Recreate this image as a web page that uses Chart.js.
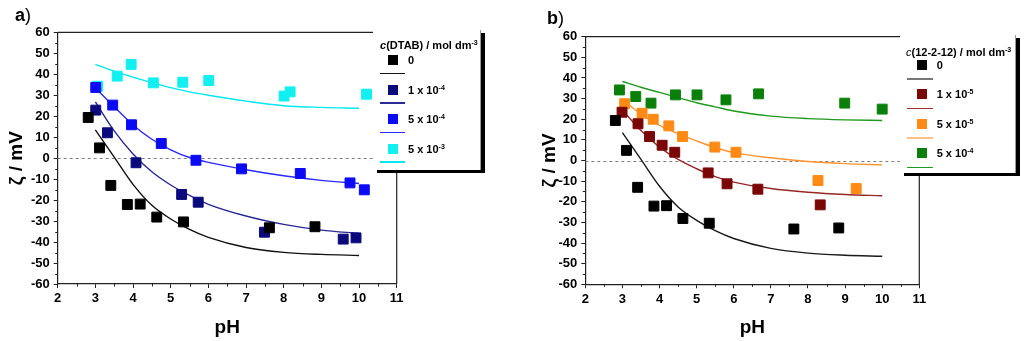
<!DOCTYPE html>
<html>
<head>
<meta charset="utf-8">
<title>Zeta potential vs pH</title>
<script src="https://cdn.jsdelivr.net/npm/chart.js@4.4.1/dist/chart.umd.min.js"></script>
<style>
  body { margin: 0; background: #fff; font-family: "Liberation Sans", Arial, sans-serif; }
  #page { position: relative; width: 1024px; height: 341px; overflow: hidden; }
  canvas { position: absolute; top: 0; }
  .tag { position: absolute; font-size: 18px; line-height: 18px; color: #000; }
  .tag b { font-weight: bold; }
  .legend { position: absolute; box-sizing: border-box; background: #fff;
            border-right: 1px solid #999; box-shadow: 4px 3px 0 #000;
            font-size: 11px; font-weight: bold; color: #000; }
  .legend div, .legend span.txt { position: absolute; }
  .legend sup { font-size: 7px; vertical-align: 4px; line-height: 0; }
  .legend .ttl { white-space: nowrap; line-height: 12px; }
</style>
</head>
<body>
<div id="page">
  <canvas id="chartA" width="512" height="341" style="left:0"></canvas>
  <canvas id="chartB" width="512" height="341" style="left:512px"></canvas>
  <div class="tag" style="left:15px; top:6px"><b>a</b>)</div>
  <div class="tag" style="left:547px; top:9px"><b>b</b>)</div>
  <div class="legend" id="legA" style="left:373px; top:30px; width:108px; height:140px"></div>
  <div class="legend" id="legB" style="left:900px; top:35px; width:116px; height:138px"></div>
</div>
<script>
// axis ticks
const xTicks = [2, 3, 4, 5, 6, 7, 8, 9, 10, 11];
const yTicks = [-60, -50, -40, -30, -20, -10, 0, 10, 20, 30, 40, 50, 60];

// pH values at which the fitted curves are given
const fitPH = [3, 3.5, 4, 4.5, 5, 5.5, 6, 7, 8, 9, 10];

// no surfactant (same in both panels)
const pH0 = [2.81, 3.11, 3.41, 3.85, 4.19, 4.63, 5.34, 7.62, 8.83];
const zeta0 = [19.4, 4.9, -13.0, -22.1, -21.9, -28.1, -30.4, -33.2, -32.7];
const fit0 = [13.5, 0.5, -12.5, -22.5, -29, -34, -37.8, -42.6, -44.9, -45.9, -46.4];

// DTAB 1e-4 / 5e-4 / 5e-3 mol dm-3
const pHDtab1 = [3.01, 3.32, 4.08, 5.29, 5.73, 7.49, 9.58, 9.92];
const zetaDtab1 = [22.9, 12.1, -2.2, -17.3, -21.0, -35.3, -38.6, -38.0];
const fitDtab1 = [26.8, 13, 2, -6.5, -12.8, -17.8, -22, -27.6, -31.6, -34.3, -35.9];

const pHDtab2 = [3.01, 3.46, 3.96, 4.75, 5.67, 6.88, 8.44, 9.76, 10.14];
const zetaDtab2 = [33.7, 25.3, 15.9, 7.0, -1.0, -5.1, -7.3, -11.8, -15.1];
const fitDtab2 = [33.5, 24.5, 15.8, 9, 4, 0.3, -2, -5.5, -8.4, -10.6, -12.1];

const pHDtab3 = [3.06, 3.58, 3.95, 4.54, 5.32, 6.01, 8.01, 8.17, 10.2];
const zetaDtab3 = [34.3, 39.1, 44.7, 35.9, 36.2, 37.0, 29.6, 31.6, 30.5];
const fitDtab3 = [44.7, 41.5, 38.6, 36, 33.6, 31.6, 30, 27.2, 25, 24.2, 23.8];

// 12-2-12 1e-5 / 5e-5 / 5e-4 mol dm-3
const pHGem1 = [2.99, 3.42, 3.73, 4.07, 4.41, 5.31, 5.82, 6.65, 8.33];
const zetaGem1 = [23.4, 17.8, 11.6, 7.4, 4.0, -6.0, -11.3, -13.9, -21.5];
const fitGem1 = [24.5, 14.5, 6.5, 0.5, -4, -7.8, -10.5, -13.6, -15.4, -16.5, -17.1];

const pHGem2 = [3.06, 3.53, 3.83, 4.25, 4.62, 5.49, 6.06, 8.27, 9.30];
const zetaGem2 = [27.5, 22.9, 20.0, 16.8, 11.6, 6.5, 4.0, -9.7, -13.6];
const fitGem2 = [29.5, 22.5, 17, 13, 9.5, 6.3, 3.8, 1.3, -0.5, -1.5, -2.1];

const pHGem3 = [2.92, 3.36, 3.77, 4.43, 5.01, 5.79, 6.67, 8.99, 10.0];
const zetaGem3 = [34.2, 31.0, 27.8, 31.8, 31.8, 29.4, 32.3, 27.8, 24.9];
const fitGem3 = [38.3, 35.5, 33, 30.5, 28, 26, 24, 21.5, 20.3, 19.7, 19.4];

// legend labels: mantissa and exponent of the concentration
const dtabMant = ['0', '1', '5', '5'];
const dtabExp = [null, -4, -4, -3];
const gemMant = ['0', '1', '5', '5'];
const gemExp = [null, -5, -5, -4];

const FONT = '"Liberation Sans", Arial, sans-serif';

function pts(xs, ys) {
  return xs.map((x, i) => ({ x: x, y: ys[i] }));
}

function scatterSet(xs, ys, color) {
  return {
    type: 'scatter', data: pts(xs, ys), order: 0,
    pointStyle: 'rect', pointRadius: 7, backgroundColor: color,
    borderColor: color, borderWidth: 1, showLine: false
  };
}

function fitSet(ys, color) {
  return {
    type: 'line', data: pts(fitPH, ys), order: 1,
    borderColor: color, borderWidth: 1.4, pointRadius: 0,
    cubicInterpolationMode: 'monotone', fill: false
  };
}

// dashed zero line, top/right frame and minor ticks
const framePlugin = {
  id: 'frame',
  beforeDatasetsDraw(chart) {
    const { ctx, chartArea: a, scales: { y } } = chart;
    const y0 = Math.round(y.getPixelForValue(0)) + 0.5;
    ctx.save();
    ctx.strokeStyle = '#808080';
    ctx.lineWidth = 1;
    ctx.setLineDash([3, 3]);
    ctx.beginPath();
    ctx.moveTo(a.left, y0);
    ctx.lineTo(a.right, y0);
    ctx.stroke();
    ctx.restore();
  },
  afterDraw(chart) {
    const { ctx, chartArea: a, scales: { x, y } } = chart;
    ctx.save();
    ctx.strokeStyle = '#222';
    ctx.lineWidth = 1.2;
    ctx.beginPath();
    ctx.moveTo(a.left, a.top);
    ctx.lineTo(a.right, a.top);
    ctx.lineTo(a.right, a.bottom);
    ctx.stroke();
    ctx.lineWidth = 1;
    ctx.beginPath();
    for (let i = 0; i < xTicks.length - 1; i++) {
      const px = Math.round(x.getPixelForValue((xTicks[i] + xTicks[i + 1]) / 2)) + 0.5;
      ctx.moveTo(px, a.bottom);
      ctx.lineTo(px, a.bottom + 2.5);
    }
    for (let i = 0; i < yTicks.length - 1; i++) {
      const py = Math.round(y.getPixelForValue((yTicks[i] + yTicks[i + 1]) / 2)) + 0.5;
      ctx.moveTo(a.left, py);
      ctx.lineTo(a.left - 2.5, py);
    }
    ctx.stroke();
    ctx.restore();
  }
};

function makeChart(id, datasets, lay) {
  const tickFont = { family: FONT, size: 13, weight: 'bold' };
  const titleFont = { family: FONT, size: 19, weight: 'bold' };
  const grid = { display: true, drawOnChartArea: false, drawTicks: true, tickLength: 4, color: '#222' };
  return new Chart(document.getElementById(id), {
    type: 'scatter',
    data: { datasets: datasets },
    options: {
      responsive: false,
      animation: false,
      events: [],
      layout: { padding: lay.padding },
      plugins: { legend: { display: false }, tooltip: { enabled: false } },
      scales: {
        x: {
          type: 'linear', min: 2, max: 11,
          afterBuildTicks: s => { s.ticks = xTicks.map(v => ({ value: v })); },
          afterFit: s => { s.height = lay.xHeight; },
          ticks: { font: tickFont, color: '#000', padding: 3, maxRotation: 0, autoSkip: false },
          grid: grid,
          border: { display: true, color: '#222', width: 1.2 },
          title: { display: true, text: 'pH', font: titleFont, color: '#000', padding: { top: 0, bottom: 2 } }
        },
        y: {
          type: 'linear', min: -60, max: 60,
          afterBuildTicks: s => { s.ticks = yTicks.map(v => ({ value: v })); },
          afterFit: s => { s.width = lay.yWidth; },
          ticks: { font: tickFont, color: '#000', padding: 4, autoSkip: false },
          grid: grid,
          border: { display: true, color: '#222', width: 1.2 },
          title: { display: true, text: 'ζ / mV', font: titleFont, color: '#000', padding: { top: lay.yTitlePad, bottom: 0 } }
        }
      }
    },
    plugins: [framePlugin]
  });
}

// legend built from the series labels and colours
function buildLegend(id, titleHtml, mant, exps, markerColors, lineColors, g) {
  const box = document.getElementById(id);
  const t = document.createElement('div');
  t.className = 'ttl';
  t.style.left = g.titleX + 'px';
  t.style.top = (g.titleY - 6) + 'px';
  t.innerHTML = titleHtml;
  box.appendChild(t);
  mant.forEach((m, i) => {
    const cy = g.y0 + g.pitch * i;
    const mk = document.createElement('div');
    mk.style.cssText = `left:${g.markX - 5}px;top:${cy - 5}px;width:10px;height:10px;background:${markerColors[i]}`;
    box.appendChild(mk);
    const ln = document.createElement('div');
    ln.style.cssText = `left:${g.lineX}px;top:${cy + g.lineDy}px;width:${g.lineW}px;height:1.5px;background:${lineColors[i]}`;
    box.appendChild(ln);
    const tx = document.createElement('span');
    tx.className = 'txt';
    tx.style.left = g.textX + 'px';
    tx.style.top = (cy - 6) + 'px';
    tx.style.lineHeight = '12px';
    tx.innerHTML = exps[i] === null ? m : `${m} x 10<sup>${exps[i]}</sup>`;
    box.appendChild(tx);
  });
}

const dtabMarker = ['#000000', '#0a0a7c', '#0a0af5', '#10f0f0'];
const dtabLine = ['#111111', '#2a2a95', '#2a2aff', '#00e8f0'];
const gemMarker = ['#000000', '#7a0606', '#ff8a14', '#0a800a'];
const gemLine = ['#1a1a1a', '#992727', '#ff9430', '#1f9a1f'];
const gemLegendLine = ['#777777', '#a03030', '#ffc08a', '#229922'];

makeChart('chartA', [
  scatterSet(pH0, zeta0, dtabMarker[0]),
  scatterSet(pHDtab1, zetaDtab1, dtabMarker[1]),
  scatterSet(pHDtab2, zetaDtab2, dtabMarker[2]),
  scatterSet(pHDtab3, zetaDtab3, dtabMarker[3]),
  fitSet(fit0, dtabLine[0]),
  fitSet(fitDtab1, dtabLine[1]),
  fitSet(fitDtab2, dtabLine[2]),
  fitSet(fitDtab3, dtabLine[3])
], { padding: { left: 0, top: 32.3, right: 115.3, bottom: 0 }, yWidth: 57.7, xHeight: 57, yTitlePad: 5 });

makeChart('chartB', [
  scatterSet(pH0, zeta0, gemMarker[0]),
  scatterSet(pHGem1, zetaGem1, gemMarker[1]),
  scatterSet(pHGem2, zetaGem2, gemMarker[2]),
  scatterSet(pHGem3, zetaGem3, gemMarker[3]),
  fitSet(fit0, gemLine[0]),
  fitSet(fitGem1, gemLine[1]),
  fitSet(fitGem2, gemLine[2]),
  fitSet(fitGem3, gemLine[3])
], { padding: { left: 20, top: 36.7, right: 104.7, bottom: 0 }, yWidth: 53.3, xHeight: 56.7, yTitlePad: 6.5 });

buildLegend('legA', '<i>c</i>(DTAB) / mol dm<sup>-3</sup>', dtabMant, dtabExp, dtabMarker, dtabLine,
  { titleX: 7, titleY: 15, y0: 30, pitch: 29.5, markX: 20, lineX: 7, lineW: 25, lineDy: 12.7, textX: 35 });
buildLegend('legB', '<i style="font-weight:normal">c</i>(12-2-12) / mol dm<sup>-3</sup>', gemMant, gemExp, gemMarker, gemLegendLine,
  { titleX: 6, titleY: 16.7, y0: 30, pitch: 29.4, markX: 21.7, lineX: 6.7, lineW: 26.6, lineDy: 13.3, textX: 36.7 });
</script>
</body>
</html>
